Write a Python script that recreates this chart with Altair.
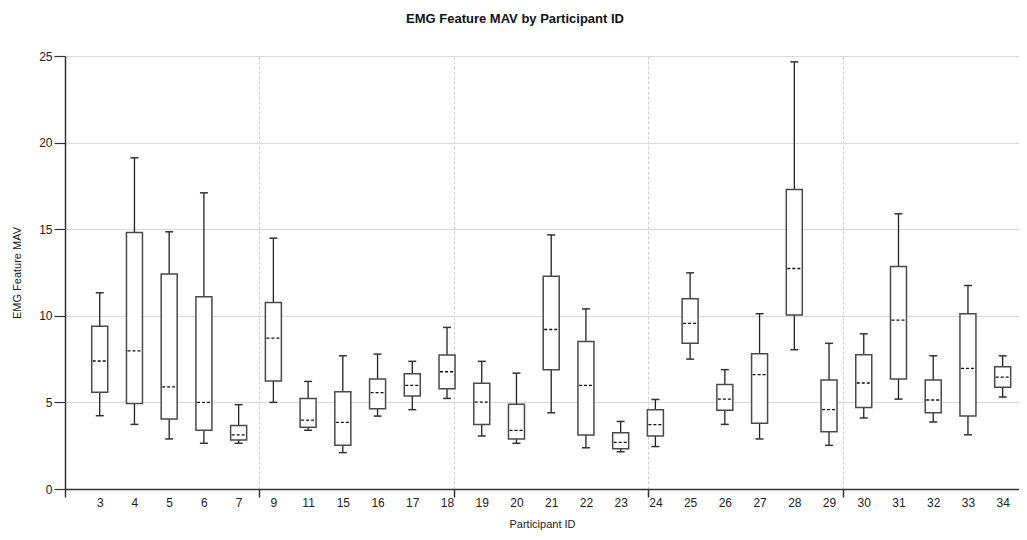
import altair as alt
import pandas as pd

participant_ids = ["3", "4", "5", "6", "7", "9", "11", "15", "16", "17", "18", "19", "20", "21",
                   "22", "23", "24", "25", "26", "27", "28", "29", "30", "31", "32", "33", "34"]
whisker_low = [4.23, 3.73, 2.89, 2.64, 2.64, 5.00, 3.39, 2.10, 4.21, 4.58, 5.23, 3.06, 2.64, 4.40,
               2.38, 2.15, 2.45, 7.50, 3.73, 2.89, 8.04, 2.52, 4.10, 5.19, 3.87, 3.13, 5.31]
q1 = [5.58, 4.94, 4.04, 3.39, 2.83, 6.23, 3.56, 2.52, 4.64, 5.37, 5.79, 3.73, 2.89, 6.88,
      3.12, 2.33, 3.06, 8.41, 4.54, 3.79, 10.04, 3.31, 4.71, 6.35, 4.40, 4.21, 5.87]
median = [7.39, 7.98, 5.90, 5.00, 3.12, 8.71, 3.98, 3.85, 5.56, 5.98, 6.77, 5.02, 3.39, 9.21,
          5.98, 2.69, 3.72, 9.56, 5.19, 6.60, 12.73, 4.58, 6.12, 9.75, 5.14, 6.96, 6.46]
q3 = [9.39, 14.81, 12.41, 11.10, 3.67, 10.77, 5.23, 5.62, 6.35, 6.65, 7.73, 6.10, 4.89, 12.29,
      8.52, 3.25, 4.58, 10.98, 6.04, 7.81, 17.29, 6.29, 7.75, 12.85, 6.29, 10.12, 7.06]
whisker_high = [11.33, 19.12, 14.85, 17.10, 4.87, 14.48, 6.21, 7.69, 7.79, 7.37, 9.33, 7.37, 6.69, 14.67,
                10.40, 3.90, 5.17, 12.48, 6.89, 10.12, 24.66, 8.41, 8.96, 15.89, 7.69, 11.75, 7.69]
y_ticks = [0, 5, 10, 15, 20, 25]
x_grid_positions = [0, 5.6, 11.2, 16.8, 22.4]

df = pd.DataFrame({
    "idx": list(range(1, len(participant_ids) + 1)),
    "pid": participant_ids,
    "low": whisker_low,
    "q1": q1,
    "med": median,
    "q3": q3,
    "high": whisker_high,
})

FONT = "Liberation Sans"
x_scale = alt.Scale(domain=[0, 27.47], nice=False, zero=False, padding=0)
y_scale = alt.Scale(domain=[0, 25], nice=False, padding=0)

label_array = "[" + ",".join("'" + p + "'" for p in participant_ids) + "]"
label_axis = alt.Axis(
    values=list(df["idx"]), labelExpr=label_array + "[round(datum.value)-1]",
    ticks=False, grid=False, domain=True, domainColor="#333333", domainWidth=1.5,
    labelFont=FONT, labelFontSize=12, labelColor="#222222", labelPadding=8,
    title="Participant ID", titleFont=FONT, titleFontSize=11, titleFontWeight="normal",
    titleColor="#222222", titlePadding=10, orient="bottom",
)
grid_axis = alt.Axis(
    values=x_grid_positions, labels=False, domain=False, ticks=True, tickSize=8,
    tickColor="#333333", tickWidth=1.5, grid=True, gridColor="#cfcfcf", gridDash=[3, 2],
    gridWidth=1, title=None, orient="bottom",
)
y_axis = alt.Axis(
    values=y_ticks, grid=True, gridColor="#d9d9d9", gridWidth=1.2, tickSize=11,
    tickColor="#333333", tickWidth=1.2, domainColor="#333333", domainWidth=1.5,
    labelFont=FONT, labelFontSize=12, labelColor="#222222", labelPadding=2,
    title="EMG Feature MAV", titleFont=FONT, titleFontSize=11, titleFontWeight="normal",
    titleColor="#222222", titlePadding=16,
)

base = alt.Chart(df)

whiskers = base.mark_rule(color="#222222", strokeWidth=1.3).encode(
    x=alt.X("idx:Q", scale=x_scale, axis=label_axis),
    y=alt.Y("low:Q", scale=y_scale, axis=y_axis),
    y2="high:Q",
)

boxes = base.mark_bar(fill="white", stroke="#4a4a4a", strokeWidth=1.5, size=16).encode(
    x=alt.X("idx:Q", scale=x_scale, axis=grid_axis),
    y=alt.Y("q1:Q", scale=y_scale, axis=y_axis),
    y2="q3:Q",
)

cap_low = base.mark_rule(color="#333333", strokeWidth=1.5, xOffset=-4, x2Offset=4).encode(
    x=alt.X("idx:Q", scale=x_scale, axis=None),
    x2="idx:Q",
    y=alt.Y("low:Q", scale=y_scale, axis=y_axis),
)
cap_high = base.mark_rule(color="#333333", strokeWidth=1.5, xOffset=-4, x2Offset=4).encode(
    x=alt.X("idx:Q", scale=x_scale, axis=None),
    x2="idx:Q",
    y=alt.Y("high:Q", scale=y_scale, axis=y_axis),
)
medians = base.mark_rule(color="#111111", strokeWidth=1.3, strokeDash=[3, 2], xOffset=-7, x2Offset=7).encode(
    x=alt.X("idx:Q", scale=x_scale, axis=None),
    x2="idx:Q",
    y=alt.Y("med:Q", scale=y_scale, axis=y_axis),
)

chart = alt.layer(whiskers, boxes, cap_low, cap_high, medians).resolve_axis(
    x="independent"
).resolve_scale(x="shared").properties(
    width=954,
    height=433,
    title=alt.TitleParams(
        "EMG Feature MAV by Participant ID", font=FONT, fontSize=13, fontWeight="bold",
        color="#111111", anchor="middle", dx=-27, offset=24,
    ),
    autosize=alt.AutoSizeParams(type="none"),
    padding={"left": 57, "top": 48, "right": 0, "bottom": 43},
).configure_view(stroke=None).configure(background="white")

chart.save("out.html", embed_options={"renderer": "svg", "actions": False})
